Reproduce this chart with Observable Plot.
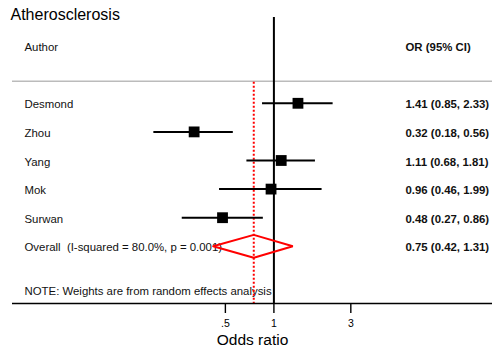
<!DOCTYPE html>
<html>
<head>
<meta charset="utf-8">
<script src="https://cdn.jsdelivr.net/npm/d3@7"></script>
<script src="https://cdn.jsdelivr.net/npm/@observablehq/plot@0.6"></script>
<style>
  html, body { margin: 0; padding: 0; background: #fff; }
  #chart svg { display: block; font-family: "Liberation Sans", Arial, Helvetica, sans-serif; }
</style>
</head>
<body>
<div id="chart"></div>
<script>
// ---- data ----
const title = "Atherosclerosis";
const authors = ["Desmond", "Zhou", "Yang", "Mok", "Surwan"];
const orValues = [1.41, 0.32, 1.11, 0.96, 0.48];
const ciLow = [0.85, 0.18, 0.68, 0.46, 0.27];
const ciHigh = [2.33, 0.56, 1.81, 1.99, 0.86];
const overallOR = 0.75;
const overallLow = 0.42;
const overallHigh = 1.31;
const iSquared = "80.0%";
const pValue = "0.001";
const tickValues = [0.5, 1, 3];
const tickLabels = [".5", "1", "3"];
const headerLeft = "Author";
const headerRight = "OR (95% CI)";
const note = "NOTE: Weights are from random effects analysis";
const xLabel = "Odds ratio";

// ---- derived tables ----
const fmt = v => v.toFixed(2);
const studies = authors.map((a, i) => ({
  row: i, author: a, or: orValues[i], lo: ciLow[i], hi: ciHigh[i],
  label: `${fmt(orValues[i])} (${fmt(ciLow[i])}, ${fmt(ciHigh[i])})`
}));
const overallRow = authors.length;
const overallText = `Overall\u00a0 (I-squared = ${iSquared}, p = ${pValue})`;
const overallLabel = `${fmt(overallOR)} (${fmt(overallLow)}, ${fmt(overallHigh)})`;
const dh = 0.4; // diamond half height in row units
const diamond = [
  {x: overallLow, y: overallRow},
  {x: overallOR, y: overallRow - dh},
  {x: overallHigh, y: overallRow},
  {x: overallOR, y: overallRow + dh},
  {x: overallLow, y: overallRow}
];
const leftRows = [
  ...studies.map(d => ({row: d.row, text: d.author})),
  {row: overallRow, text: overallText},
  {row: 6.54, text: note},
  {row: -2, text: headerLeft}
];
const rightRows = [
  ...studies.map(d => ({row: d.row, text: d.label})),
  {row: overallRow, text: overallLabel}
];
const ticks = tickValues.map((v, i) => ({v, label: tickLabels[i]}));
const axisRow = 7;
const tickLen = 10 / 28.6;

const chart = Plot.plot({
  width: 497,
  height: 353,
  marginLeft: 12,
  marginRight: 5,
  marginTop: 0,
  marginBottom: 50,
  style: {fontFamily: "'Liberation Sans', Arial, Helvetica, sans-serif", color: "#000", background: "#fff"},
  x: {type: "log", domain: [0.0239, 22.7], axis: null},
  y: {domain: [-3.594, 7], reverse: true, axis: null},
  marks: [
    // title
    Plot.text([title], {y: [-3.08], frameAnchor: "left", textAnchor: "start", dx: -2, fontSize: 16, fill: "#000"}),
    // left column text
    Plot.text(leftRows, {y: "row", text: "text", frameAnchor: "left", textAnchor: "start", dx: 12, dy: 1.5, fontSize: 11.4, fill: "#111"}),
    // right column
    Plot.text([headerRight], {y: [-2], frameAnchor: "left", textAnchor: "start", dx: 393, dy: 1.5, fontSize: 11.4, fontWeight: "bold", fill: "#111"}),
    Plot.text(rightRows, {y: "row", text: "text", frameAnchor: "left", textAnchor: "start", dx: 393, dy: 1.5, fontSize: 11.4, fontWeight: "bold", fill: "#111"}),
    // gray separator
    Plot.ruleY([-0.77], {stroke: "#bbb", strokeWidth: 1.3}),
    // null line
    Plot.ruleX([1], {y1: -3, y2: axisRow, stroke: "#000", strokeWidth: 2}),
    // overall estimate line
    Plot.ruleX([overallOR], {y1: -0.74, y2: axisRow, stroke: "#ff0000", strokeWidth: 2, strokeDasharray: "2,2"}),
    // CIs
    Plot.ruleY(studies, {y: "row", x1: "lo", x2: "hi", stroke: "#000", strokeWidth: 2}),
    // squares
    Plot.dot(studies, {x: "or", y: "row", symbol: "square", r: 6.1, fill: "#000", stroke: "none"}),
    // diamond
    Plot.line(diamond, {x: "x", y: "y", stroke: "#ff0000", strokeWidth: 2, strokeLinejoin: "miter"}),
    // x axis baseline, ticks, labels
    Plot.ruleY([axisRow], {stroke: "#000", strokeWidth: 1.4}),
    Plot.ruleX(ticks, {x: "v", y1: axisRow, y2: axisRow + tickLen, stroke: "#000", strokeWidth: 1.4}),
    Plot.text(ticks, {x: "v", text: "label", frameAnchor: "bottom", dy: 23, fontSize: 10.5, fill: "#000"}),
    Plot.text([xLabel], {frameAnchor: "bottom", dy: 41, fontSize: 15.5, fill: "#000"})
  ]
});
document.getElementById("chart").appendChild(chart);
</script>
</body>
</html>
